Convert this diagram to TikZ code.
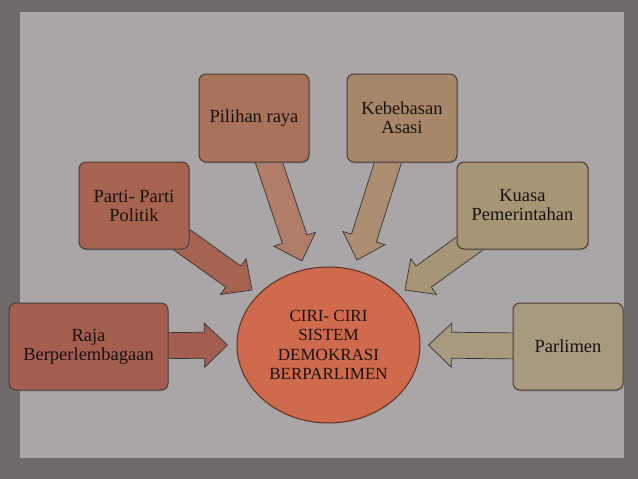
\documentclass[tikz,border=0pt]{standalone}
\usepackage{fontspec}
\setmainfont{Liberation Serif}
\usetikzlibrary{calc,shapes.geometric,shadows}
\pgfdeclarelayer{back}
\pgfdeclarelayer{arrs}
\pgfsetlayers{back,arrs,main}
\definecolor{frameC}{HTML}{6E6A6A}
\definecolor{panelC}{HTML}{AAA6A8}
\definecolor{edgeC}{HTML}{4A3C34}
\definecolor{txtC}{HTML}{1A1210}
\definecolor{cRaja}{HTML}{A45E50}
\definecolor{cParti}{HTML}{A66450}
\definecolor{cPil}{HTML}{A8725B}
\definecolor{cKeb}{HTML}{A7876A}
\definecolor{cKua}{HTML}{A69676}
\definecolor{cParl}{HTML}{A79B7F}
\definecolor{cCore}{HTML}{CF6A4C}
\newcommand\blockarr[3]{%
  \path ($(#2)!23pt!(#1)$) coordinate (bh);
  \filldraw[arrline, fill=#3]
    ($(#1)!13pt!90:(#2)$) -- ($(bh)!13pt!90:(#2)$) -- ($(bh)!22pt!90:(#2)$)
    -- (#2) -- ($(bh)!22pt!-90:(#2)$) -- ($(bh)!13pt!-90:(#2)$)
    -- ($(#1)!13pt!-90:(#2)$) -- cycle;}
\tikzset{
  box/.style={draw=edgeC, line width=1pt, rounded corners=7pt, inner sep=0pt,
    align=center, text=txtC, font=\fontsize{18.5}{19}\selectfont,
    drop shadow={shadow xshift=1pt, shadow yshift=-1.5pt, opacity=.45}},
  core/.style={ellipse, draw=black!55!cCore, line width=1pt, fill=cCore, inner sep=0pt,
    minimum width=183pt, minimum height=156pt, align=center, text=txtC,
    font=\fontsize{17}{19.5}\selectfont},
  arrline/.style={draw=black!60!#1, line width=0.7pt, line join=miter},
  arrline/.default=gray
}
\begin{document}
\begin{tikzpicture}[x=1pt,y=-1pt]
\useasboundingbox (0,0) rectangle (638,479);
\begin{pgfonlayer}{back}
  \fill[frameC] (0,0) rectangle (638,479);
  \fill[panelC] (20,12) rectangle (624,458);
\end{pgfonlayer}
\node[box, fill=cRaja, minimum width=159pt, minimum height=87pt] (raja) at (88.5,346.5) {Raja\\Berperlembagaan};
\node[box, fill=cParti, minimum width=110pt, minimum height=87pt] (parti) at (134,205.5) {Parti- Parti\\Politik};
\node[box, fill=cPil, minimum width=110pt, minimum height=88pt] (pil) at (254,118) {Pilihan raya};
\node[box, fill=cKeb, minimum width=110pt, minimum height=88pt] (keb) at (402,118) {Kebebasan\\Asasi};
\node[box, fill=cKua, minimum width=131pt, minimum height=87pt] (kua) at (522.5,205.5) {Kuasa\\Pemerintahan};
\node[box, fill=cParl, minimum width=110pt, minimum height=87pt] (parl) at (568,346.5) {Parlimen};
\node[core] (core) at (328.5,345) {CIRI- CIRI\\SISTEM\\DEMOKRASI\\BERPARLIMEN};
\coordinate (tRaja) at ($(core.west)+(-9,0)$);
\coordinate (tParti) at (252,290);
\coordinate (tPil) at (302,261);
\coordinate (tKeb) at (357,260);
\coordinate (tKua) at (405,290);
\coordinate (tParl) at ($(core.east)+(8,0)$);
\begin{pgfonlayer}{arrs}
  \blockarr{raja}{tRaja}{cRaja}
  \blockarr{parti}{tParti}{cParti}
  \blockarr{pil}{tPil}{cPil!92!white}
  \blockarr{keb}{tKeb}{cKeb!94!white}
  \blockarr{kua}{tKua}{cKua}
  \blockarr{parl}{tParl}{cParl}
\end{pgfonlayer}
\end{tikzpicture}
\end{document}
